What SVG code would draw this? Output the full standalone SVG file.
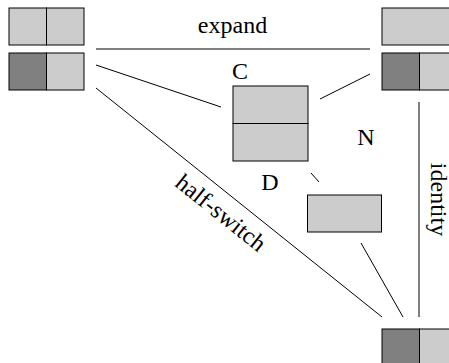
<svg xmlns="http://www.w3.org/2000/svg" width="449" height="363" viewBox="0 0 449 363">
<style>
.l{fill:#cccccc;stroke:#000;stroke-width:1}
.d{fill:#808080;stroke:#000;stroke-width:1}
.e{stroke:#000;stroke-width:1;fill:none}
text{font-family:"Liberation Serif","Times New Roman",serif;font-size:24px;fill:#000}
</style>
<rect width="449" height="363" fill="#fff"/>
<g id="connectors">
<line class="e" x1="96" y1="49" x2="370" y2="49"/>
<line class="e" x1="96" y1="65" x2="221" y2="107"/>
<line class="e" x1="320" y1="99" x2="370" y2="74"/>
<line class="e" x1="96" y1="88" x2="382" y2="317"/>
<line class="e" x1="311" y1="173" x2="319" y2="182"/>
<line class="e" x1="361" y1="243" x2="403" y2="317"/>
<line class="e" x1="419" y1="102" x2="419" y2="317"/>
<text x="232.5" y="33" text-anchor="middle">expand</text>
<text transform="translate(216,219) rotate(38.66)" text-anchor="middle">half-switch</text>
<text transform="translate(431,199.5) rotate(90)" text-anchor="middle">identity</text>
</g>
<g id="n-topleft-a">
<rect class="l" x="9" y="8" width="37.5" height="37"/>
<rect class="l" x="46.5" y="8" width="37.5" height="37"/>
</g>
<g id="n-topleft-b">
<rect class="d" x="9" y="53" width="37.5" height="37"/>
<rect class="l" x="46.5" y="53" width="37.5" height="37"/>
</g>
<g id="n-topright-a">
<rect class="l" x="382" y="8" width="75" height="37"/>
</g>
<g id="n-topright-b">
<rect class="d" x="382" y="53" width="37.5" height="37"/>
<rect class="l" x="419.5" y="53" width="37.5" height="37"/>
</g>
<g id="n-center">
<rect class="l" x="233" y="86" width="75" height="37.5"/>
<rect class="l" x="233" y="123.5" width="75" height="37.5"/>
<text x="240" y="79" text-anchor="middle">C</text>
</g>
<g id="n-N">
<text x="366" y="145" text-anchor="middle">N</text>
</g>
<g id="n-D">
<text x="270" y="190" text-anchor="middle">D</text>
</g>
<g id="n-small">
<rect class="l" x="307.5" y="195" width="74" height="37"/>
</g>
<g id="n-bottomright">
<rect class="d" x="382" y="329" width="37.5" height="37"/>
<rect class="l" x="419.5" y="329" width="37.5" height="37"/>
</g>
</svg>
